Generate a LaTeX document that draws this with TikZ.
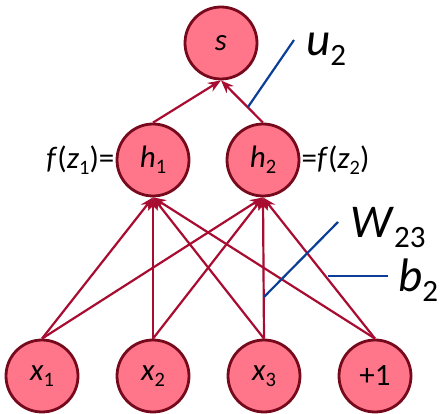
\documentclass[tikz,border=0pt]{standalone}
\usepackage{fontspec}
\usepackage{graphicx}
\setmainfont{Carlito}
\usetikzlibrary{arrows.meta, positioning}

\definecolor{nodefill}{HTML}{FF7589}
\definecolor{nodeline}{HTML}{760A1C}
\definecolor{edgered}{HTML}{A80C30}
\definecolor{noteblue}{HTML}{0B3F97}

\newcommand{\idx}[1]{\raisebox{-0.2em}{\scalebox{0.66}{#1}}}

\begin{document}
\begin{tikzpicture}[x=1pt, y=-1pt,
    unit/.style={circle, draw=nodeline, line width=2.8pt, fill=nodefill, minimum size=72pt, inner sep=0pt, font=\fontsize{31}{36}\selectfont},
    wire/.style={draw=edgered, line width=2.2pt, -{Stealth[length=13pt, width=10pt]}},
    note/.style={draw=noteblue, line width=2.2pt},
    tag/.style={font=\fontsize{47}{54}\selectfont, inner sep=0pt},
    side/.style={font=\fontsize{31}{36}\selectfont, inner sep=0pt}
]
    \useasboundingbox (0,0) rectangle (448,414);

    % output
    \node[unit] (s) at (221,43) {\textit{s}};

    % hidden layer
    \node[unit] (h1) at (153,160) {\textit{h}\idx{1}};
    \node[unit] (h2) at (263,160) {\textit{h}\idx{2}};
    \node[side, left=1pt of h1] (f1) {\textit{f}(\textit{z}\idx{1})=};
    \node[side, right=1pt of h2] (f2) {=\textit{f}(\textit{z}\idx{2})};

    % inputs
    \node[unit] (x1) at (42,376) {\textit{x}\idx{1}};
    \node[unit] (x2) at (153,376) {\textit{x}\idx{2}};
    \node[unit] (x3) at (264,376) {\textit{x}\idx{3}};
    \node[unit] (one) at (375,376) {+1};

    % weights
    \foreach \i in {x1,x2,x3,one}
        \foreach \j in {h1,h2}
            \draw[wire] (\i.north) -- (\j.south);
    \draw[wire] (h1.north) -- (s.south);
    \draw[wire] (h2.north) -- (s.south);

    % annotations
    \coordinate (u2a) at (248,107);
    \coordinate (u2b) at (294,40);
    \draw[note] (u2a) -- (u2b);
    \node[tag, anchor=base west] (u2) at (306,56) {\textit{u}\idx{2}};

    \coordinate (w23a) at (264,297);
    \coordinate (w23b) at (338,222);
    \draw[note] (w23a) -- (w23b);
    \node[tag, anchor=base west] (w23) at (350,238) {\textit{W}\idx{23}};

    \coordinate (b2a) at (328,276);
    \coordinate (b2b) at (388,276);
    \draw[note] (b2a) -- (b2b);
    \node[tag, anchor=base west] (b2) at (398,292) {\textit{b}\idx{2}};
\end{tikzpicture}
\end{document}
